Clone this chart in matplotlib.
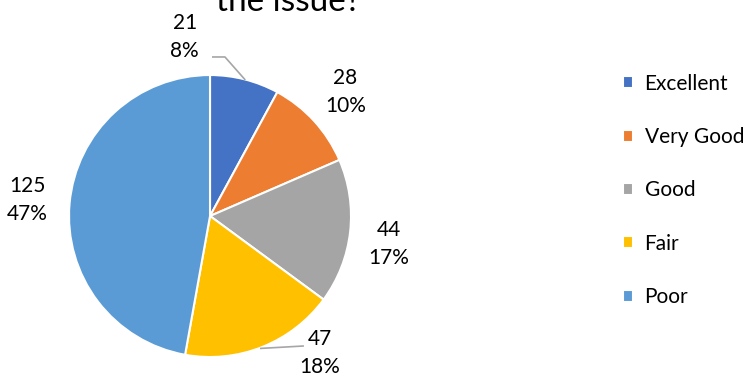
import numpy as np
import matplotlib
matplotlib.use("Agg")
import matplotlib.pyplot as plt

plt.rcParams['font.family'] = ['Lato', 'DejaVu Sans']

# ratings and counts
categories = ["Excellent", "Very Good", "Good", "Fair", "Poor"]
counts = [21, 28, 44, 47, 125]
percents = ["8%", "10%", "17%", "18%", "47%"]
colors = ["#4472C4", "#ED7D31", "#A5A5A5", "#FFC000", "#5B9BD5"]

# label centres (pie radius = 1), None -> placed on the mid angle
label_pos = [(-0.18, 1.27), None, (1.27, -0.2), (0.78, -0.97), None]
label_dist = 1.3
leader_color = "#A6A6A6"

fig = plt.figure(figsize=(7.51, 3.82), dpi=100)
ax = fig.add_axes([0.0919, 0.0654, 0.3755, 0.7382])

wedges, _ = ax.pie(counts, colors=colors, startangle=90, counterclock=False,
                   radius=1, wedgeprops=dict(edgecolor="white", linewidth=1.5))
ax.set_xlim(-1, 1)
ax.set_ylim(-1, 1)
ax.axis("off")

for i, w in enumerate(wedges):
    mid = np.deg2rad((w.theta1 + w.theta2) / 2)
    ex, ey = np.cos(mid), np.sin(mid)
    if label_pos[i] is None:
        tx, ty = label_dist * ex, label_dist * ey
    else:
        tx, ty = label_pos[i]
    ax.text(tx, ty, "%d\n%s" % (counts[i], percents[i]), ha="center", va="center",
            fontsize=15, linespacing=1.5, clip_on=False)

# leader lines for the two labels pulled away from their slices
w = wedges[0]
mid = np.deg2rad((w.theta1 + w.theta2) / 2)
ax.plot([np.cos(mid), 0.106, 0.02], [np.sin(mid), 1.128, 1.128],
        color=leader_color, lw=1.2, clip_on=False)
w = wedges[3]
mid = np.deg2rad((w.theta1 + w.theta2) / 2)
ax.plot([np.cos(mid) - 0.01, 0.66], [np.sin(mid) - 0.01, -0.922],
        color=leader_color, lw=1.2, clip_on=False)

fig.text(0.384, 0.972, "the issue?", ha="center", va="baseline", fontsize=24)

leg = fig.legend(wedges, categories, loc="upper left", bbox_to_anchor=(0.818, 0.829),
                 frameon=False, fontsize=15, handlelength=0.5, handleheight=0.5,
                 handletextpad=0.55, labelspacing=1.6, borderaxespad=0)

fig.savefig("out.png", dpi=100)
